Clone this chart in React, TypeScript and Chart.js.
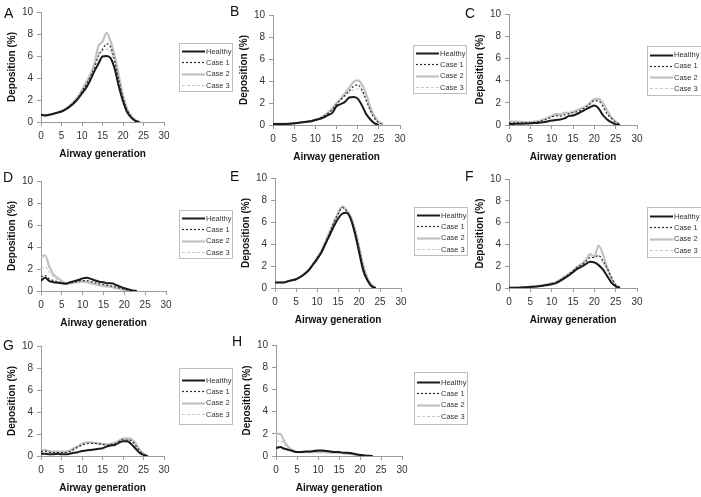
import React, { useEffect, useRef } from "react";
import { Chart, registerables } from "chart.js";

Chart.register(...registerables);

// ---------- data ----------
const GENERATIONS = [0, 1, 2, 3, 4, 5, 6, 7, 8, 9, 10, 11, 12, 13, 14, 15, 16, 17, 18, 19, 20, 21, 22, 23, 24, 25, 26];
const SERIES_NAMES = ["Healthy", "Case 1", "Case 2", "Case 3"];
const PANEL_LETTERS = ["A", "B", "C", "D", "E", "F", "G", "H"];
const X_TITLE = "Airway generation";
const Y_TITLE = "Deposition (%)";

const A_HEALTHY = [0.65, 0.6, 0.65, 0.75, 0.85, 0.95, 1.15, 1.4, 1.7, 2.1, 2.6, 3.1, 3.8, 4.6, 5.3, 5.95, 6.0, 5.8, 4.8, 3.2, 1.9, 0.9, 0.4, 0.1, 0];
const A_CASE1 = [0.65, 0.6, 0.65, 0.75, 0.85, 0.95, 1.15, 1.45, 1.8, 2.2, 2.8, 3.4, 4.1, 4.9, 6.0, 6.6, 7.1, 6.8, 5.5, 3.8, 2.2, 1.1, 0.5, 0.15, 0];
const A_CASE2 = [0.65, 0.6, 0.65, 0.75, 0.85, 1.0, 1.2, 1.5, 1.85, 2.3, 2.9, 3.6, 4.3, 5.3, 6.9, 7.3, 8.1, 7.3, 6.0, 4.2, 2.4, 1.2, 0.55, 0.2, 0];
const A_CASE3 = [0.65, 0.6, 0.65, 0.75, 0.85, 0.95, 1.15, 1.45, 1.8, 2.25, 2.8, 3.4, 4.1, 5.0, 6.2, 6.5, 6.6, 6.4, 5.3, 3.7, 2.2, 1.1, 0.5, 0.15, 0];

const B_HEALTHY = [0.1, 0.1, 0.1, 0.1, 0.12, 0.15, 0.2, 0.25, 0.3, 0.35, 0.45, 0.55, 0.7, 0.9, 1.1, 1.7, 1.9, 2.1, 2.5, 2.55, 2.4, 1.8, 1.0, 0.5, 0.15, 0];
const B_CASE1 = [0.1, 0.1, 0.1, 0.1, 0.12, 0.15, 0.2, 0.25, 0.3, 0.38, 0.48, 0.6, 0.8, 1.05, 1.4, 1.9, 2.3, 2.7, 3.1, 3.5, 3.65, 3.2, 2.3, 1.3, 0.6, 0.2, 0.05];
const B_CASE2 = [0.1, 0.1, 0.1, 0.1, 0.12, 0.15, 0.2, 0.25, 0.3, 0.38, 0.5, 0.62, 0.85, 1.15, 1.5, 2.0, 2.4, 2.9, 3.4, 3.9, 4.05, 3.7, 2.8, 1.6, 0.8, 0.3, 0.1];
const B_CASE3 = [0.1, 0.1, 0.1, 0.1, 0.12, 0.15, 0.2, 0.25, 0.3, 0.38, 0.48, 0.6, 0.8, 1.05, 1.4, 1.9, 2.3, 2.6, 3.0, 3.2, 3.3, 3.0, 2.2, 1.3, 0.6, 0.2, 0.05];

const C_HEALTHY = [0.1, 0.1, 0.12, 0.12, 0.13, 0.15, 0.17, 0.2, 0.25, 0.32, 0.4, 0.45, 0.5, 0.6, 0.8, 0.85, 1.0, 1.2, 1.4, 1.6, 1.75, 1.5, 0.9, 0.5, 0.25, 0.05, 0];
const C_CASE1 = [0.2, 0.2, 0.2, 0.2, 0.2, 0.2, 0.25, 0.3, 0.4, 0.55, 0.7, 0.85, 0.8, 0.9, 1.0, 1.1, 1.2, 1.35, 1.6, 1.9, 2.2, 2.15, 1.7, 1.0, 0.6, 0.25, 0.05];
const C_CASE2 = [0.3, 0.3, 0.3, 0.28, 0.27, 0.25, 0.3, 0.35, 0.5, 0.65, 0.8, 1.0, 0.95, 1.1, 1.1, 1.2, 1.35, 1.5, 1.7, 2.0, 2.35, 2.35, 2.0, 1.3, 0.7, 0.3, 0.05];
const C_CASE3 = [0.25, 0.25, 0.25, 0.25, 0.22, 0.22, 0.27, 0.32, 0.45, 0.6, 0.75, 0.9, 0.9, 1.0, 1.05, 1.15, 1.3, 1.45, 1.65, 1.95, 2.25, 2.25, 1.85, 1.15, 0.65, 0.28, 0.05];

const D_HEALTHY = [0.95, 1.2, 0.9, 0.8, 0.75, 0.7, 0.65, 0.8, 0.9, 1.0, 1.15, 1.2, 1.1, 0.95, 0.85, 0.8, 0.7, 0.7, 0.55, 0.4, 0.25, 0.15, 0.05, 0];
const D_CASE1 = [1.3, 1.4, 1.1, 0.95, 0.85, 0.75, 0.7, 0.75, 0.8, 0.9, 0.95, 0.95, 0.85, 0.75, 0.65, 0.6, 0.5, 0.45, 0.35, 0.25, 0.15, 0.08, 0.02, 0];
const D_CASE2 = [3.1, 3.25, 2.2, 1.5, 1.2, 0.9, 0.7, 0.7, 0.75, 0.8, 0.85, 0.8, 0.7, 0.6, 0.5, 0.45, 0.4, 0.35, 0.25, 0.2, 0.1, 0.05, 0];
const D_CASE3 = [2.0, 2.2, 1.7, 1.3, 1.0, 0.85, 0.7, 0.72, 0.78, 0.85, 0.9, 0.85, 0.75, 0.65, 0.55, 0.5, 0.45, 0.4, 0.3, 0.22, 0.12, 0.06, 0];

const E_HEALTHY = [0.5, 0.5, 0.5, 0.6, 0.7, 0.8, 1.0, 1.25, 1.6, 2.1, 2.6, 3.2, 4.0, 4.8, 5.6, 6.3, 6.75, 6.85, 6.3, 5.0, 3.3, 1.6, 0.7, 0.15, 0];
const E_CASE1 = [0.5, 0.5, 0.5, 0.6, 0.7, 0.8, 1.0, 1.3, 1.65, 2.15, 2.7, 3.3, 4.1, 5.0, 5.9, 6.7, 7.3, 7.0, 6.4, 5.2, 3.6, 1.9, 0.8, 0.2, 0];
const E_CASE2 = [0.5, 0.5, 0.5, 0.6, 0.7, 0.8, 1.0, 1.3, 1.65, 2.15, 2.75, 3.35, 4.2, 5.1, 6.0, 6.8, 7.4, 7.1, 6.5, 5.4, 3.8, 2.1, 0.9, 0.3, 0.05];
const E_CASE3 = [0.5, 0.5, 0.5, 0.6, 0.7, 0.8, 1.0, 1.3, 1.65, 2.15, 2.7, 3.3, 4.1, 5.0, 5.95, 6.8, 7.5, 7.1, 6.4, 5.3, 3.7, 2.0, 0.85, 0.25, 0];

const F_HEALTHY = [0.02, 0.02, 0.03, 0.04, 0.06, 0.1, 0.12, 0.15, 0.2, 0.28, 0.35, 0.45, 0.65, 0.9, 1.15, 1.45, 1.75, 1.95, 2.2, 2.4, 2.35, 2.1, 1.7, 1.1, 0.5, 0.15, 0];
const F_CASE1 = [0.02, 0.02, 0.03, 0.05, 0.08, 0.12, 0.14, 0.18, 0.24, 0.32, 0.4, 0.5, 0.72, 0.98, 1.25, 1.55, 1.9, 2.1, 2.4, 2.8, 2.8, 3.0, 2.5, 1.8, 1.0, 0.3, 0.05];
const F_CASE2 = [0.02, 0.02, 0.03, 0.05, 0.08, 0.13, 0.15, 0.2, 0.26, 0.34, 0.42, 0.55, 0.78, 1.05, 1.3, 1.6, 1.95, 2.2, 2.6, 3.1, 2.9, 3.9, 3.1, 1.9, 0.9, 0.25, 0.05];
const F_CASE3 = [0.02, 0.02, 0.03, 0.05, 0.08, 0.12, 0.14, 0.19, 0.25, 0.33, 0.41, 0.52, 0.75, 1.0, 1.28, 1.58, 1.9, 2.15, 2.5, 3.0, 2.8, 2.9, 2.4, 1.6, 0.8, 0.25, 0.05];

const G_HEALTHY = [0.2, 0.2, 0.15, 0.15, 0.2, 0.15, 0.15, 0.2, 0.3, 0.35, 0.45, 0.5, 0.55, 0.6, 0.65, 0.7, 0.85, 0.95, 1.0, 1.2, 1.35, 1.35, 1.1, 0.7, 0.3, 0.1, 0];
const G_CASE1 = [0.4, 0.45, 0.35, 0.3, 0.3, 0.3, 0.32, 0.4, 0.6, 0.8, 1.0, 1.1, 1.15, 1.15, 1.1, 1.05, 1.0, 1.05, 1.1, 1.3, 1.5, 1.45, 1.4, 1.0, 0.5, 0.15, 0];
const G_CASE2 = [0.5, 0.55, 0.45, 0.4, 0.4, 0.4, 0.42, 0.5, 0.7, 0.9, 1.1, 1.25, 1.25, 1.2, 1.15, 1.1, 1.05, 1.1, 1.2, 1.4, 1.6, 1.6, 1.55, 1.2, 0.6, 0.2, 0.05];
const G_CASE3 = [0.45, 0.5, 0.4, 0.35, 0.35, 0.35, 0.38, 0.45, 0.65, 0.85, 1.05, 1.2, 1.2, 1.15, 1.1, 1.05, 1.0, 1.05, 1.15, 1.35, 1.55, 1.5, 1.45, 1.1, 0.55, 0.18, 0.03];

const H_HEALTHY = [0.7, 0.8, 0.65, 0.55, 0.45, 0.35, 0.35, 0.4, 0.4, 0.45, 0.5, 0.5, 0.45, 0.4, 0.35, 0.35, 0.3, 0.3, 0.25, 0.15, 0.1, 0.05, 0.02, 0];
const H_CASE1 = [0.75, 0.85, 0.7, 0.55, 0.45, 0.35, 0.35, 0.38, 0.4, 0.43, 0.45, 0.45, 0.42, 0.38, 0.35, 0.32, 0.3, 0.28, 0.22, 0.15, 0.1, 0.05, 0.02, 0];
const H_CASE2 = [2.0, 2.0, 1.3, 0.8, 0.5, 0.35, 0.35, 0.35, 0.35, 0.35, 0.35, 0.35, 0.33, 0.32, 0.3, 0.28, 0.25, 0.22, 0.18, 0.12, 0.08, 0.04, 0.01, 0];
const H_CASE3 = [1.3, 1.4, 1.0, 0.7, 0.45, 0.35, 0.35, 0.36, 0.37, 0.38, 0.4, 0.4, 0.38, 0.35, 0.32, 0.3, 0.27, 0.25, 0.2, 0.14, 0.09, 0.04, 0.01, 0];

const PANEL_SERIES = [
  [A_HEALTHY, A_CASE1, A_CASE2, A_CASE3],
  [B_HEALTHY, B_CASE1, B_CASE2, B_CASE3],
  [C_HEALTHY, C_CASE1, C_CASE2, C_CASE3],
  [D_HEALTHY, D_CASE1, D_CASE2, D_CASE3],
  [E_HEALTHY, E_CASE1, E_CASE2, E_CASE3],
  [F_HEALTHY, F_CASE1, F_CASE2, F_CASE3],
  [G_HEALTHY, G_CASE1, G_CASE2, G_CASE3],
  [H_HEALTHY, H_CASE1, H_CASE2, H_CASE3],
];

const X_TICKS = [0, 5, 10, 15, 20, 25, 30];
const Y_TICKS = [0, 2, 4, 6, 8, 10];

// ---------- layout & style ----------
const W = 701;
const H = 497;
const Y_W = 36;
const X_H = 40;
const FONT = "'Liberation Sans', Arial, Helvetica, sans-serif";

// chart area (l,t,r,b), legend box (lx,ly,lw,lh), letter position (ax, ay baseline)
const LAYOUT = [
  { l: 41, t: 12, r: 164, b: 122, lx: 179, ly: 43, lw: 53, lh: 48, ax: 4, ay: 18 },
  { l: 273, t: 15, r: 400, b: 125, lx: 413, ly: 45, lw: 53, lh: 48, ax: 230, ay: 16 },
  { l: 509, t: 14, r: 637, b: 125, lx: 647, ly: 46, lw: 56, lh: 49, ax: 465, ay: 18 },
  { l: 41, t: 181, r: 166, b: 291, lx: 179, ly: 210, lw: 53, lh: 48, ax: 3, ay: 182 },
  { l: 275, t: 178, r: 401, b: 288, lx: 414, ly: 207, lw: 53, lh: 48, ax: 230, ay: 181 },
  { l: 509, t: 179, r: 637, b: 288, lx: 647, ly: 207, lw: 56, lh: 50, ax: 465, ay: 181 },
  { l: 41, t: 346, r: 164, b: 456, lx: 179, ly: 368, lw: 53, lh: 56, ax: 3, ay: 350 },
  { l: 276, t: 345, r: 402, b: 456, lx: 414, ly: 372, lw: 53, lh: 52, ax: 232, ay: 346 },
];

const SERIES_STYLE = [
  { color: "#1a1a1a", width: 2, dash: [] as number[] },
  { color: "#2a2a2a", width: 1.2, dash: [2, 2] },
  { color: "#c2c2c2", width: 2.2, dash: [] as number[] },
  { color: "#c9c9c9", width: 1.1, dash: [3, 2] },
];

const boxLegend = {
  id: "boxLegend",
  afterDraw(chart: any, _args: any, opts: any) {
    const ctx = chart.ctx;
    const { x, y, w, h } = opts;
    ctx.save();
    ctx.strokeStyle = "#bdbdbd";
    ctx.lineWidth = 1;
    ctx.strokeRect(x + 0.5, y + 0.5, w, h);
    const n = chart.data.datasets.length;
    const spacing = 11.3;
    chart.data.datasets.forEach((ds: any, i: number) => {
      const cy = y + h / 2 + 1 + (i - (n - 1) / 2) * spacing;
      ctx.beginPath();
      ctx.setLineDash(ds.borderDash || []);
      ctx.strokeStyle = ds.borderColor;
      ctx.lineWidth = ds.borderWidth;
      ctx.moveTo(x + 3, Math.round(cy) + 0.5);
      ctx.lineTo(x + 26, Math.round(cy) + 0.5);
      ctx.stroke();
      ctx.setLineDash([]);
      ctx.fillStyle = "#333";
      ctx.font = `7.5px ${FONT}`;
      ctx.textBaseline = "middle";
      ctx.textAlign = "left";
      ctx.fillText(ds.label, x + 27, cy + 0.5);
    });
    ctx.restore();
  },
};

const panelLetter = {
  id: "panelLetter",
  afterDraw(chart: any, _args: any, opts: any) {
    const ctx = chart.ctx;
    ctx.save();
    ctx.fillStyle = "#111";
    ctx.font = `14px ${FONT}`;
    ctx.textBaseline = "alphabetic";
    ctx.textAlign = "left";
    ctx.fillText(opts.text, opts.x, opts.y);
    ctx.restore();
  },
};

function Panel({ index }: { index: number }) {
  const ref = useRef<HTMLCanvasElement | null>(null);
  useEffect(() => {
    const canvas = ref.current;
    if (!canvas) return;
    const lay = LAYOUT[index];
    const series = PANEL_SERIES[index];
    const datasets = series.map((vals, si) => ({
      label: SERIES_NAMES[si],
      data: vals.map((v, k) => ({ x: GENERATIONS[k], y: v })),
      borderColor: SERIES_STYLE[si].color,
      borderWidth: SERIES_STYLE[si].width,
      borderDash: SERIES_STYLE[si].dash,
      pointRadius: 0,
      fill: false,
      cubicInterpolationMode: "monotone" as const,
    }));
    const tickColor = "#333";
    const axisColor = "#9a9a9a";
    const chart = new Chart(canvas, {
      type: "line",
      data: { datasets },
      plugins: [boxLegend, panelLetter],
      options: {
        responsive: false,
        animation: false,
        devicePixelRatio: 1,
        events: [],
        layout: {
          padding: {
            left: lay.l - Y_W,
            top: lay.t,
            right: W - lay.r,
            bottom: H - lay.b - X_H,
          },
        },
        plugins: {
          legend: { display: false },
          tooltip: { enabled: false },
          boxLegend: { x: lay.lx, y: lay.ly, w: lay.lw, h: lay.lh },
          panelLetter: { text: PANEL_LETTERS[index], x: lay.ax, y: lay.ay },
        } as any,
        scales: {
          x: {
            type: "linear",
            min: X_TICKS[0],
            max: X_TICKS[X_TICKS.length - 1],
            afterBuildTicks: (s: any) => {
              s.ticks = X_TICKS.map((v) => ({ value: v }));
            },
            afterFit: (s: any) => {
              s.height = X_H;
            },
            ticks: {
              color: tickColor,
              font: { size: 10, family: FONT },
              padding: 4,
              maxRotation: 0,
              autoSkip: false,
            },
            grid: { drawOnChartArea: false, tickLength: 4, color: axisColor },
            border: { color: axisColor },
            title: {
              display: true,
              text: X_TITLE,
              color: "#111",
              font: { size: 10, weight: "bold", family: FONT },
              padding: { top: 0, bottom: 2 },
            },
          },
          y: {
            type: "linear",
            min: Y_TICKS[0],
            max: Y_TICKS[Y_TICKS.length - 1],
            afterBuildTicks: (s: any) => {
              s.ticks = Y_TICKS.map((v) => ({ value: v }));
            },
            afterFit: (s: any) => {
              s.width = Y_W;
            },
            ticks: {
              color: tickColor,
              font: { size: 10, family: FONT },
              padding: 4,
              autoSkip: false,
            },
            grid: { drawOnChartArea: false, tickLength: 4, color: axisColor },
            border: { color: axisColor },
            title: {
              display: true,
              text: Y_TITLE,
              color: "#111",
              font: { size: 10, weight: "bold", family: FONT },
              padding: { top: 1, bottom: 0 },
            },
          },
        },
      } as any,
    });
    return () => chart.destroy();
  }, [index]);
  return (
    <canvas
      ref={ref}
      width={W}
      height={H}
      style={{ position: "absolute", left: 0, top: 0, width: W, height: H }}
    />
  );
}

export default function App() {
  return (
    <div
      style={{
        position: "absolute",
        left: 0,
        top: 0,
        width: W,
        height: H,
        background: "#ffffff",
        overflow: "hidden",
      }}
    >
      {PANEL_LETTERS.map((_, i) => (
        <Panel key={i} index={i} />
      ))}
    </div>
  );
}
